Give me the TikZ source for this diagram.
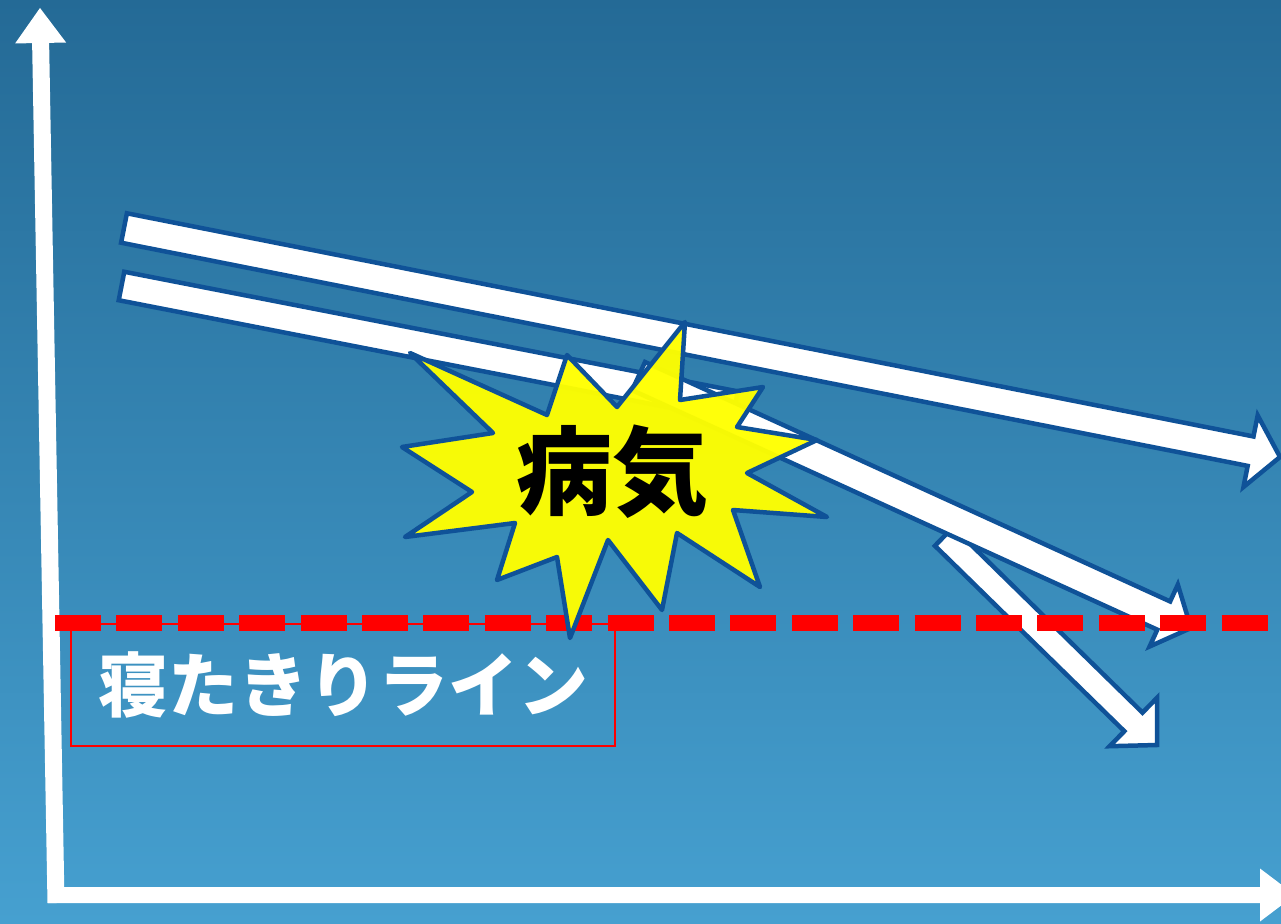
\documentclass[tikz,border=0pt]{standalone}
\usepackage{fontspec}
\newfontfamily\cjk{Noto Sans CJK JP}
\usetikzlibrary{calc}
\definecolor{bgtop}{RGB}{36,106,150}
\definecolor{bgbot}{RGB}{70,160,208}
\definecolor{arrblue}{RGB}{15,82,152}
\definecolor{staryellow}{RGB}{255,255,0}
\newcommand{\myblkarrow}[6]{% style, start, tip, shaft half, head half, head length
  \coordinate (bm) at ($(#3)!#6!(#2)$);
  \draw[#1] ($(#2)!#4!90:(#3)$) -- ($(bm)!#4!90:(#3)$) -- ($(bm)!#5!90:(#3)$) -- (#3)
    -- ($(bm)!#5!-90:(#3)$) -- ($(bm)!#4!-90:(#3)$) -- ($(#2)!#4!-90:(#3)$) -- cycle;
}
\newcommand{\myblkbar}[4]{% style, start, end, half width
  \draw[#1] ($(#2)!#4!90:(#3)$) -- ($(#3)!#4!-90:(#2)$) -- ($(#3)!#4!90:(#2)$) -- ($(#2)!#4!-90:(#3)$) -- cycle;
}
\begin{document}
\begin{tikzpicture}[x=1pt,y=-1pt,
  arr/.style={fill=white,draw=arrblue,line width=4.5pt,line join=miter},
  ax/.style={fill=white,draw=none},
  starsty/.style={fill=staryellow,fill opacity=0.96,draw=arrblue,line width=4.5pt,line join=round},
  redbox/.style={draw=red,line width=2pt,minimum width=544pt,minimum height=122pt,inner sep=0pt,anchor=north west,text=white,font=\cjk\bfseries\fontsize{70}{70}\selectfont},
  sicktext/.style={inner sep=0pt,text=black,font=\cjk\bfseries\fontsize{96}{96}\selectfont},
]
\useasboundingbox (0,0) rectangle (1281,923);
\begin{scope}
\clip (0,0) rectangle (1281,923);
\shade[top color=bgtop,bottom color=bgbot] (0,0) rectangle (1281,923);
% axes
\coordinate (yS) at (56,903);
\coordinate (yT) at (40,8);
\coordinate (xS) at (48,895);
\coordinate (xT) at (1295,895);
\myblkarrow{ax}{yS}{yT}{8.5pt}{25.5pt}{35pt}
\myblkarrow{ax}{xS}{xT}{8pt}{26.5pt}{35pt}
% arrow 1
\coordinate (a1S) at (124,228);
\coordinate (a1T) at (1280,457);
\myblkarrow{arr}{a1S}{a1T}{15pt}{36.5pt}{30pt}
% arrow 3
\coordinate (a3S) at (944,536.5);
\coordinate (a3T) at (1157,745);
\myblkarrow{arr}{a3S}{a3T}{13pt}{34pt}{33pt}
% arrow 2 straight part
\coordinate (a2S) at (121.5,286);
\coordinate (a2E) at (735,405.6);
\myblkbar{arr}{a2S}{a2E}{14.5pt}
% steep arrow
\coordinate (a4S) at (638.6,376.1);
\coordinate (a4T) at (1191,628);
\myblkarrow{arr}{a4S}{a4T}{15.5pt}{34pt}{30pt}
% bedridden line box
\node[redbox] (box) at (70,623) {寝たきりライン};
% red dashed line
\coordinate (dl) at (55,623);
\coordinate (dr) at (1268,623);
\draw[red,line width=16pt,dash pattern=on 46pt off 15.4pt] (dl) -- (dr);
% star
\draw[starsty] (685,322) -- (680,400) -- (763,387) -- (737,427) -- (817,440) -- (747,473)
  -- (827,517) -- (733,510) -- (760,587) -- (677,533) -- (662,610) -- (608,540)
  -- (570,638) -- (557,557) -- (497,580) -- (515,523) -- (405,537) -- (472,492)
  -- (402,447) -- (493,433) -- (410,353) -- (547,415) -- (567,355) -- (617,407) -- cycle;
\node[sicktext] (sick) at (612,472) {病気};
\end{scope}
\end{tikzpicture}
\end{document}
